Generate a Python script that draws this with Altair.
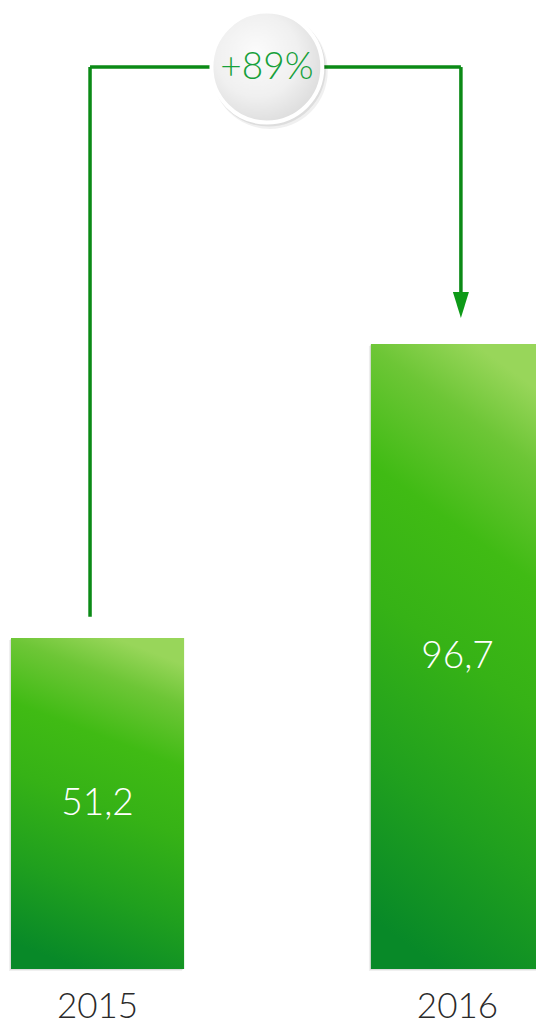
import altair as alt
import pandas as pd

# ---- data ----
years = ["2015", "2016"]
values = [51.2, 96.7]
value_labels = ["51,2", "96,7"]
change_from = "2015"
change_to = "2016"
change_label = "+89%"

# ---- layout constants (derived from the picture) ----
PLOT_H = 969                     # zero line sits at page y=969
PX_PER_UNIT = 625 / 96.7
YMAX = PLOT_H / PX_PER_UNIT
CONN_TOP = 139.55                # level of horizontal connector (data units)
LEFT_START = values[0] + 3.3
ARROW_BASE = 104.7
ARROW_MID = 102.73
BADGE_DX = -104

GREEN_LINE = "#0b8a16"
FONT = "Lato"

bars_df = pd.DataFrame({
    "year": years,
    "value": values,
    "label": value_labels,
    "mid": [v / 2 for v in values],
})
conn_df = pd.DataFrame({
    "from": [change_from],
    "to": [change_to],
    "top": [CONN_TOP],
    "start": [LEFT_START],
    "tip": [ARROW_BASE],
    "head": [ARROW_MID],
    "label": [change_label],
})

xscale = alt.Scale(domain=years, range=[11, 544], paddingInner=0.519, paddingOuter=0)
yscale = alt.Scale(domain=[0, YMAX], nice=False, zero=True)

bar_grad = alt.LinearGradient(
    gradient="linear",
    stops=[
        alt.GradientStop(color="#98d65a", offset=0.0),
        alt.GradientStop(color="#6dc636", offset=0.12),
        alt.GradientStop(color="#40bb14", offset=0.30),
        alt.GradientStop(color="#36b216", offset=0.50),
        alt.GradientStop(color="#20a01e", offset=0.75),
        alt.GradientStop(color="#088928", offset=1.0),
    ],
    x1=0.6, y1=0, x2=0.4, y2=1,
)

xaxis = alt.Axis(title=None, domain=False, ticks=False, labelAngle=0,
                 labelFont=FONT, labelFontSize=35, labelFontWeight=300,
                 labelColor="#2a2a2a", labelPadding=20)

base_bars = alt.Chart(bars_df)

shadow1 = base_bars.mark_bar(color="#000000", opacity=0.06, xOffset=-2, yOffset=2).encode(
    x=alt.X("year:N", scale=xscale, axis=xaxis), y=alt.Y("value:Q", scale=yscale, axis=None))
shadow2 = base_bars.mark_bar(color="#000000", opacity=0.08, xOffset=-1, yOffset=1).encode(
    x=alt.X("year:N", scale=xscale, axis=xaxis), y=alt.Y("value:Q", scale=yscale, axis=None))

bars = base_bars.mark_bar(color=bar_grad).encode(
    x=alt.X("year:N", scale=xscale, axis=xaxis),
    y=alt.Y("value:Q", scale=yscale, axis=None),
)

bar_text = base_bars.mark_text(color="white", font=FONT, fontSize=37, fontWeight=300,
                               baseline="middle", align="center").encode(
    x=alt.X("year:N", scale=xscale, axis=xaxis),
    y=alt.Y("mid:Q", scale=yscale, axis=None),
    text="label:N",
)

base_conn = alt.Chart(conn_df)

rule_left = base_conn.mark_rule(color=GREEN_LINE, strokeWidth=3.5).encode(
    x=alt.X("from:N", scale=xscale, bandPosition=0.4566, axis=xaxis),
    y=alt.Y("start:Q", scale=yscale, axis=None),
    y2="top:Q",
)
rule_top = base_conn.mark_rule(color=GREEN_LINE, strokeWidth=3.5).encode(
    x=alt.X("from:N", scale=xscale, bandPosition=0.4566, axis=xaxis),
    x2=alt.X2("to:N", bandPosition=0.52),
    y=alt.Y("top:Q", scale=yscale, axis=None),
)
rule_right = base_conn.mark_rule(color=GREEN_LINE, strokeWidth=3.5).encode(
    x=alt.X("to:N", scale=xscale, bandPosition=0.52, axis=xaxis),
    y=alt.Y("top:Q", scale=yscale, axis=None),
    y2="tip:Q",
)
arrow_head = base_conn.mark_point(
    shape="M-0.615,-1L0.615,-1L0,1Z", filled=True, size=676,
    color="#0e9a18", opacity=1,
).encode(
    x=alt.X("to:N", scale=xscale, bandPosition=0.52, axis=xaxis),
    y=alt.Y("head:Q", scale=yscale, axis=None),
)

circle_grad = alt.RadialGradient(
    gradient="radial",
    stops=[
        alt.GradientStop(color="#fbfbfb", offset=0.0),
        alt.GradientStop(color="#f0f0f0", offset=0.6),
        alt.GradientStop(color="#dcdcdc", offset=1.0),
    ],
    x1=0.4, y1=0.35, r1=0, x2=0.42, y2=0.42, r2=0.62,
)

badge_shadow2 = base_conn.mark_circle(color="#000000", opacity=0.06, size=13400,
                                      xOffset=BADGE_DX + 3, yOffset=4).encode(
    x=alt.X("to:N", scale=xscale, bandPosition=0, axis=xaxis),
    y=alt.Y("top:Q", scale=yscale, axis=None),
)
badge_shadow = base_conn.mark_circle(color="#000000", opacity=0.08, size=13200,
                                     xOffset=BADGE_DX + 1.5, yOffset=2).encode(
    x=alt.X("to:N", scale=xscale, bandPosition=0, axis=xaxis),
    y=alt.Y("top:Q", scale=yscale, axis=None),
)
badge = base_conn.mark_circle(fill=circle_grad, stroke="#ffffff", strokeWidth=4,
                              opacity=1, strokeOpacity=1, size=12300,
                              xOffset=BADGE_DX).encode(
    x=alt.X("to:N", scale=xscale, bandPosition=0, axis=xaxis),
    y=alt.Y("top:Q", scale=yscale, axis=None),
)
badge_text = base_conn.mark_text(color="#16a03a", font=FONT, fontSize=37, fontWeight=300,
                                 baseline="middle", align="center", dy=1,
                                 xOffset=BADGE_DX).encode(
    x=alt.X("to:N", scale=xscale, bandPosition=0, axis=xaxis),
    y=alt.Y("top:Q", scale=yscale, axis=None),
    text="label:N",
)

chart = alt.layer(
    shadow1, shadow2, bars, bar_text,
    rule_left, rule_top, rule_right, arrow_head,
    badge_shadow2, badge_shadow, badge, badge_text,
).properties(
    width=544, height=PLOT_H,
    padding={"left": -8, "right": -8, "top": -8, "bottom": 55},
    autosize=alt.AutoSizeParams(type="none"),
    background="white",
).configure_view(stroke=None)

chart.save("out.html", embed_options={"renderer": "svg", "actions": False})
